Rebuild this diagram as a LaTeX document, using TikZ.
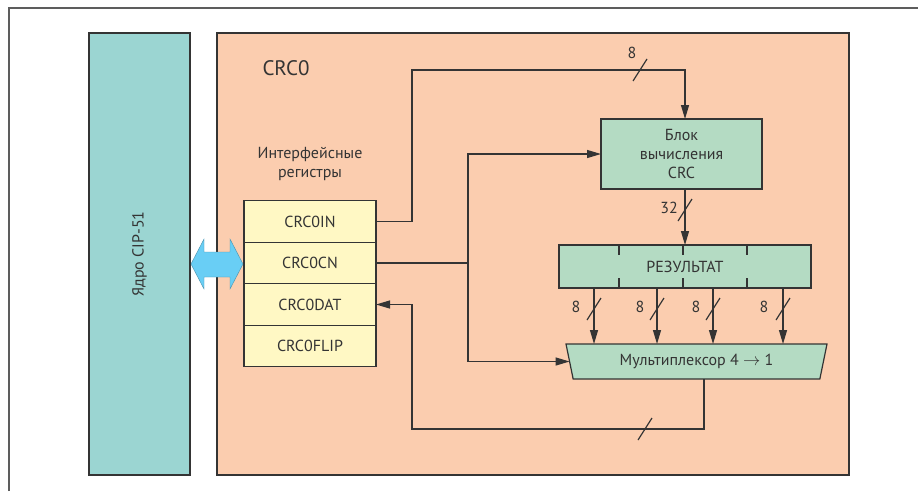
\documentclass[tikz,border=0pt]{standalone}
\usepackage{fontspec}
\setmainfont{PT Sans}
\usetikzlibrary{arrows.meta,positioning,shapes.geometric}

\definecolor{edge}{RGB}{52,52,52}
\definecolor{coreteal}{RGB}{155,213,210}
\definecolor{crcpeach}{RGB}{251,205,175}
\definecolor{regyellow}{RGB}{255,248,196}
\definecolor{modgreen}{RGB}{180,219,195}
\definecolor{busblue}{RGB}{105,206,245}

\tikzset{
  pics/busmark/.style={code={\draw[edge, line width=1.2pt] (-7pt,-11pt) -- (7pt,11pt);}},
}

\begin{document}
\begin{tikzpicture}[x=1pt, y=-1pt,
  txt/.style={font=\fontsize{16}{19}\selectfont, text=edge},
  block/.style={draw=edge, line width=1.2pt, fill=modgreen, align=center,
    txt, inner sep=0pt, outer sep=0pt},
  reg/.style={draw=edge, line width=1.2pt, fill=regyellow, minimum width=132pt,
    minimum height=41.5pt, txt, outer sep=0pt},
  wire/.style={draw=edge, line width=1.2pt},
  arrow/.style={wire, -{Triangle[length=14pt, width=8pt]}},
  buslabel/.style={txt, inner sep=1pt},
]
  \useasboundingbox (0,0) rectangle (918,491);
  \draw[edge!80, line width=1.2pt] (9,491) -- (9,8) -- (918,8);

  % core and crc module
  \node[draw=edge, line width=1.2pt, fill=coreteal, rotate=90, minimum width=442pt,
    minimum height=101pt, txt] (core) at (139.5,254) {Ядро CIP-51};
  \node[draw=edge, line width=1.2pt, fill=crcpeach, minimum width=632pt,
    minimum height=442pt] (crc) at (533,254) {};
  \node[txt, font=\fontsize{21}{24}\selectfont] (title) at (286,68) {CRC0};

  % interface registers
  \node[txt, align=center] (iflabel) at (310,164) {Интерфейсные\\регистры};
  \node[reg] (rin) at (310,221.5) {CRC0IN};
  \node[reg, below=0pt of rin] (rcn) {CRC0CN};
  \node[reg, below=0pt of rcn] (rdat) {CRC0DAT};
  \node[reg, below=0pt of rdat] (rflip) {CRC0FLIP};

  % bus between core and registers
  \fill[busblue, draw=busblue!70!black, line width=0.4pt]
    (191,264) -- (204,239) -- (204,252) -- (230,252) -- (230,239) -- (243,264)
    -- (230,289) -- (230,277) -- (204,277) -- (204,289) -- cycle;

  % calculation blocks
  \node[block, minimum width=161pt, minimum height=70pt] (calc) at (681.5,154)
    {Блок\\вычисления\\CRC};
  \node[block, minimum width=252pt, minimum height=43pt] (res) at (685,266.5) {РЕЗУЛЬТАТ};
  \foreach \dx in {619,683,747} {
    \draw[wire] (\dx,0 |- res.north) -- ++(0,10);
    \draw[wire] (\dx,0 |- res.south) -- ++(0,-10);
  }
  \node[block, trapezium, trapezium angle=64, shape border rotate=180,
    trapezium stretches body, minimum width=261pt, minimum height=35pt] (mux)
    at (696.5,361.5) {Мультиплексор 4 $\rightarrow$ 1};

  % connections
  \draw[arrow] (rin.east) -| (412,70) -| (calc.north -| res.north);
  \pic at (640,70) {busmark};
  \node[buslabel] (l8a) at (632,53) {8};

  \coordinate (jn) at (468,0 |- rcn.east);
  \draw[wire] (rcn.east) -- (jn);
  \draw[arrow] (jn) |- (calc.west);
  \draw[arrow] (jn) |- (mux.west);

  \draw[arrow] (res.north |- calc.south) -- (res.north);
  \pic at (685,210) {busmark};
  \node[buslabel] (l32) at (669,208) {32};

  \foreach \ax/\lx [count=\i] in {594/576,657/640,713/696,783/764} {
    \draw[arrow] (\ax,0 |- res.south) -- (\ax,344);
    \pic at (\ax,309) {busmark};
    \node[buslabel] (l8\i) at (\lx,307) {8};
  }

  \draw[arrow] (704,0 |- mux.south) |- (412,429) |- (rdat.east);
  \pic at (645,429) {busmark};
\end{tikzpicture}
\end{document}
